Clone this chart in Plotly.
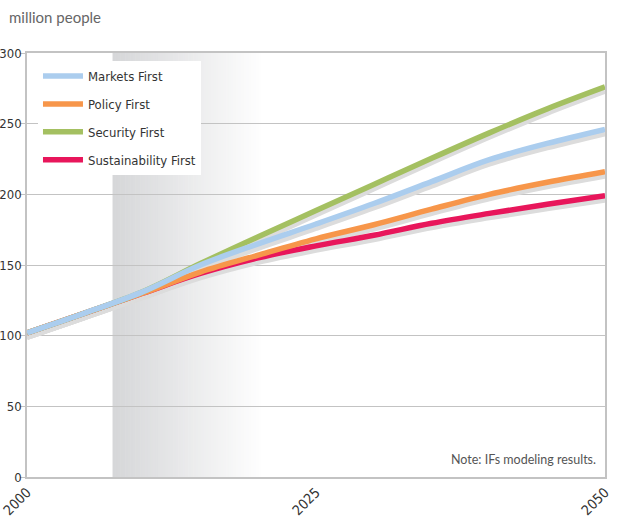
import numpy as np
import plotly.graph_objects as go

years = [2000, 2005, 2010, 2015, 2020, 2025, 2030, 2035, 2040, 2045, 2050]
markets_first = [102, 116, 131, 150, 165, 179, 193.5, 209, 224.5, 236, 246]
policy_first = [102, 116, 130, 145, 157, 168.5, 178.5, 189.5, 200, 208.5, 216]
security_first = [102, 116, 131, 151, 170, 188.5, 207, 225.5, 243.5, 260.5, 276]
sustainability_first = [102, 116, 130, 144, 155, 163.5, 171, 179.5, 186.5, 193, 199]

series = [
    ("Markets First", markets_first, "#abcdee", 1),
    ("Policy First", policy_first, "#f7964a", 2),
    ("Security First", security_first, "#a4c061", 3),
    ("Sustainability First", sustainability_first, "#e8165b", 4),
]
draw_order = ["Sustainability First", "Policy First", "Security First", "Markets First"]

y_ticks = [0, 50, 100, 150, 200, 250, 300]
x_ticks = [2000, 2025, 2050]
band_start, band_end = 2007.4, 2020.5
shadow_offset = 3.0

FONT = "DejaVu Sans Condensed, sans-serif"

fig = go.Figure()

for name in draw_order:
    s = next(t for t in series if t[0] == name)
    fig.add_trace(go.Scatter(
        x=years, y=[v - shadow_offset for v in s[1]], mode="lines",
        line=dict(color="#dcdcdc", width=5.5, shape="spline"),
        showlegend=False, hoverinfo="skip"))

for name in draw_order:
    s = next(t for t in series if t[0] == name)
    fig.add_trace(go.Scatter(
        x=years, y=s[1], mode="lines", name=s[0],
        line=dict(color=s[2], width=5.5, shape="spline"),
        legendrank=s[3], legendgroup=s[0]))

steps = 60
edges = np.linspace(band_start, band_end, steps + 1)
c0 = np.array([214, 215, 217])
c1 = np.array([255, 255, 255])
shapes = []
for i in range(steps):
    t = i / (steps - 1)
    c = (c0 + (c1 - c0) * t).astype(int)
    shapes.append(dict(type="rect", xref="x", yref="paper",
                       x0=edges[i], x1=edges[i + 1] + 0.05, y0=0, y1=1,
                       fillcolor=f"rgb({c[0]},{c[1]},{c[2]})",
                       line=dict(width=0), layer="below"))

fig.update_layout(
    width=618, height=521,
    margin=dict(l=27, r=13, t=53, b=44),
    plot_bgcolor="white", paper_bgcolor="white",
    shapes=shapes,
    font=dict(family=FONT, color="#333333", size=14),
    showlegend=True,
    legend=dict(x=0.019, y=0.981, xanchor="left", yanchor="top",
                bgcolor="white", borderwidth=0,
                font=dict(family=FONT, size=13, color="#333333"),
                tracegroupgap=8, itemwidth=40),
    xaxis=dict(range=[2000, 2050], tickvals=x_ticks, ticktext=[str(v) for v in x_ticks],
               tickangle=-45, showgrid=False, showline=True, linecolor="#c3c3c3",
               linewidth=1.5, mirror=True, zeroline=False, automargin=False,
               tickfont=dict(family=FONT, size=14, color="#333333"), ticks=""),
    yaxis=dict(range=[0, 300], tickvals=y_ticks, showgrid=True, gridcolor="#c3c3c3",
               gridwidth=1, showline=True, linecolor="#c3c3c3", linewidth=1.5,
               mirror=True, zeroline=False, ticks="outside", ticklen=5, automargin=False,
               ticklabelstandoff=-4,
               tickcolor="#c3c3c3", tickfont=dict(family=FONT, size=13, color="#333333")),
    annotations=[
        dict(text="million people", xref="paper", yref="paper", x=-0.035, y=1.0,
             yshift=36, xanchor="left", yanchor="middle", showarrow=False,
             font=dict(family="Lato, DejaVu Sans, sans-serif", size=15, color="#666666")),
        dict(text="Note: IFs modeling results.", xref="paper", yref="paper", x=0.988, y=0.018,
             xanchor="right", yanchor="bottom", showarrow=False,
             font=dict(family="Lato, DejaVu Sans, sans-serif", size=12.5, color="#555555")),
    ],
)

fig.write_html("out.html", config={"displayModeBar": False},
               post_script="document.body.style.margin='0';document.body.style.overflow='hidden';")
